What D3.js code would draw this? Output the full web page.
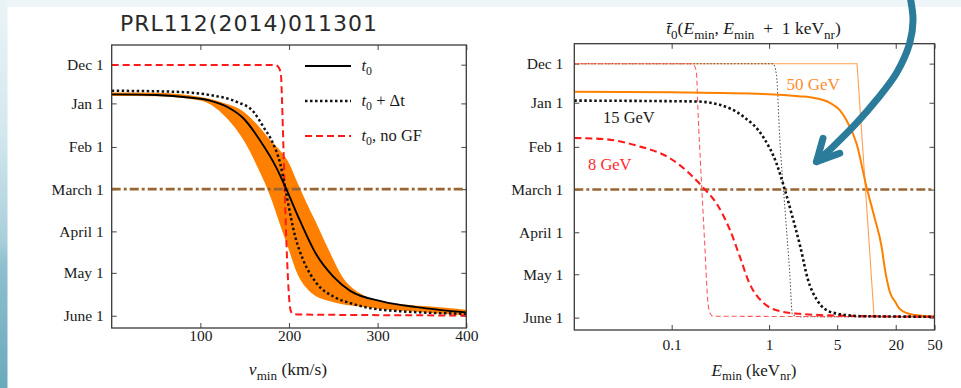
<!DOCTYPE html>
<html>
<head>
<meta charset="utf-8">
<script src="https://cdn.jsdelivr.net/npm/d3@7/dist/d3.min.js"></script>
<style>
  html, body { margin: 0; padding: 0; background: #fff; }
  svg { display: block; }
</style>
</head>
<body>
<svg id="chart" width="961" height="388"></svg>
<script>
// ---------- axis labels ----------
const monthLabels = ["Dec 1", "Jan 1", "Feb 1", "March 1", "April 1", "May 1", "June 1"];
const monthDays   = [-27.5, 0, 31, 61, 91, 120.5, 151];   // days after Jan 1
const march1Day   = 61;
const vTicks = [100, 200, 300, 400];
const eTicks = [0.1, 1, 5, 20, 50];

// ---------- left panel: phase t0 vs v_min (km/s) -> day ----------
const bandV  = [0, 50, 100, 125, 150, 165, 180, 190, 200, 210, 220, 230, 245, 260, 280, 300, 330, 360, 400];
const bandHi = [-7.7, -7.5, -4.5, -0.6, 6.5, 15.8, 27, 33.5, 42.5, 57, 71, 84, 104.5, 123, 135, 140, 143, 144.5, 146.8];
const bandLo = [-5.2, -5, -2, 7.5, 27.5, 46, 68, 86.5, 104.5, 122, 131.5, 137, 140.5, 142.8, 144.5, 146, 147.5, 149, 150.7];

const t0 = [[0,-6.4],[50,-6],[90,-4],[111,-2],[130,2.4],[148.5,10.6],[167,26],[186,46],[197,61],
            [212,82.9],[231,107.7],[250,123.2],[269,133.3],[306,140.9],[344,144.9],[400,148.7]];
const t0dt = [[0,-9],[73,-8.2],[111,-5.9],[141,-1.1],[160,6],[171,16.6],[182,28.4],[190,42.6],[195.5,59.2],
              [199,71],[207,94.7],[216,111.3],[231,127.8],[250,137.3],[269,142],[306,146.8],[400,149.6]];
const t0noGF = [[0,-27.3],[184.2,-27.3],[188.7,-25.2],[191,-19.5],[192.1,-2.4],[193.8,33.1],[195.5,68.7],
                [197.2,100.7],[198.9,125.5],[200.6,141.9],[202,147.6],[204.5,149.6],[212.4,150.1],[400,150.8]];

// ---------- right panel: mean phase vs E_min (keV_nr) -> day ----------
const gev50 = [[0.01,-7.8],[0.1,-7.3],[1,-6],[2,-4.6],[3,-3.2],[4.2,0],[5.3,5],[6.2,12],[7.9,28.5],[10,59],
               [12.2,81.5],[14.3,101],[15.4,116],[17.4,133],[20,140.5],[22,145],[30,149],[50,150.3]];
const gev50noGF = [[0.01,-27.4],[8.01,-27.4],[11.97,150.1],[50,150.5]];
const gev15 = [[0.01,-1.5],[0.18,-0.9],[0.31,1.4],[0.54,9.5],[0.87,24],[1.19,42.5],[1.45,61],[1.72,79],
               [2.1,101.5],[2.5,124],[3.1,138.5],[4.5,147.5],[9,150],[50,150.4]];
const gev15noGF = [[0.01,-27.4],[1.1,-27.4],[1.19,-19.7],[1.29,26],[1.45,72.8],[1.63,119.6],[1.74,149],
                   [2.06,150.4],[50,150.4]];
const gev8 = [[0.01,24.8],[0.02,25.5],[0.044,30.2],[0.096,39],[0.154,50],[0.21,59.5],[0.29,71],[0.4,90],
              [0.5,108],[0.63,127],[0.87,140.5],[1.35,146.8],[2.06,148.3],[5.3,149.6],[50,150.4]];
const gev8noGF = [[0.01,-27.4],[0.153,-27.4],[0.172,-25.8],[0.18,-20],[0.186,5],[0.201,52],[0.218,98],
                  [0.234,138],[0.246,147.5],[0.265,150],[50,150.4]];

// callout arrow, in the right panel's (E, day) units
const arrowShaft = [[27.8,-76],[30.1,-58.2],[27.8,-41.8],[20.3,-20.7],[12.67,-1.9],[7.89,14.4],[4.54,30.9],[3.07,41.4]];
const arrowHead  = [[3.58,25],[3.07,41.4],[5.32,35.5]];

// ---------- drawing ----------
const svg = d3.select("#chart");
const W = 961, H = 388;

// slide background
const defs = svg.append("defs");
const grad = defs.append("linearGradient").attr("id", "edge").attr("x1", 0).attr("y1", 0).attr("x2", 0).attr("y2", 1);
[[0, "#eaf4f7"], [0.35, "#d2e7ee"], [0.62, "#a9cfdb"], [0.68, "#8fc0cf"], [1, "#6aa9bc"]]
  .forEach(([o, c]) => grad.append("stop").attr("offset", o).attr("stop-color", c));
svg.append("rect").attr("width", W).attr("height", H).attr("fill", "#fff");
svg.append("rect").attr("width", W).attr("height", 7).attr("fill", "#eef6f9");
svg.append("rect").attr("width", 7.5).attr("height", H).attr("fill", "url(#edge)");

const serif = "'Liberation Serif', 'Times New Roman', serif";
const axisColor = "#3a3a3a";

function richText(g, x, y, parts, opts = {}) {
  const size = opts.size || 15.5;
  const subScale = opts.subScale || 0.72;
  const t = g.append("text").attr("x", x).attr("y", y)
    .attr("font-family", serif).attr("font-size", size)
    .attr("fill", opts.fill || "#1a1a1a")
    .attr("text-anchor", opts.anchor || "start");
  let shift = 0;
  parts.forEach(p => {
    const s = t.append("tspan").text(p.t);
    const target = p.sub ? size * 0.26 : 0;
    if (target !== shift) { s.attr("dy", target - shift); shift = target; }
    if (p.i) s.attr("font-style", "italic");
    if (p.sub) s.attr("font-size", size * subScale);
  });
  return t;
}

function panel(x, y, xTickVals, xFmt, xPad, yPad, id) {
  const [x0, x1] = x.range(), [y0, y1] = y.range();
  const g = svg.append("g");
  defs.append("clipPath").attr("id", id).append("rect")
    .attr("x", x0).attr("y", y0).attr("width", x1 - x0).attr("height", y1 - y0);

  const style = sel => {
    sel.select(".domain").remove();
    sel.selectAll(".tick line").attr("stroke", "#555").attr("stroke-width", 1.1);
    sel.selectAll(".tick text").attr("font-family", serif).attr("font-size", 15.5).attr("fill", "#1a1a1a");
  };
  g.append("g").attr("transform", `translate(${x0},0)`)
    .call(d3.axisLeft(y).tickValues(monthDays).tickFormat((d, i) => monthLabels[i]).tickSize(-5).tickPadding(yPad))
    .call(style);
  g.append("g").attr("transform", `translate(${x1},0)`)
    .call(d3.axisRight(y).tickValues(monthDays).tickFormat("").tickSize(-5)).call(style);
  g.append("g").attr("transform", `translate(0,${y1})`)
    .call(d3.axisBottom(x).tickValues(xTickVals).tickFormat(xFmt).tickSize(-5).tickPadding(xPad))
    .call(style);
  g.append("g").attr("transform", `translate(0,${y0})`)
    .call(d3.axisTop(x).tickValues(xTickVals).tickFormat("").tickSize(-5)).call(style);

  const plot = g.append("g").attr("clip-path", `url(#${id})`);
  return { g, plot };
}

// ---- left panel ----
const xL = d3.scaleLinear().domain([0, 400]).range([111.7, 466.3]);
const yL = d3.scaleLinear().domain([-41.5, 159.7]).range([45, 328]);
const L = panel(xL, yL, vTicks, d3.format("d"), 1.5, 8, "clipL");

const lineL = d3.line().x(d => xL(d[0])).y(d => yL(d[1])).curve(d3.curveMonotoneX);
const bandRows = bandV.map((v, i) => ({ v, hi: bandHi[i], lo: bandLo[i] }));
L.plot.append("path").datum(bandRows)
  .attr("d", d3.area().x(d => xL(d.v)).y0(d => yL(d.lo)).y1(d => yL(d.hi)).curve(d3.curveMonotoneX))
  .attr("fill", "#ff8000");
L.plot.append("line").attr("x1", xL(0)).attr("x2", xL(400)).attr("y1", yL(march1Day)).attr("y2", yL(march1Day))
  .attr("stroke", "#996633").attr("stroke-width", 2.6).attr("stroke-dasharray", "9,3,3,3");
L.plot.append("path").datum(t0noGF).attr("d", lineL).attr("fill", "none")
  .attr("stroke", "#ff1a1a").attr("stroke-width", 2).attr("stroke-dasharray", "7,4");
L.plot.append("path").datum(t0dt).attr("d", lineL).attr("fill", "none")
  .attr("stroke", "#111").attr("stroke-width", 2.5).attr("stroke-dasharray", "2.5,2.5");
L.plot.append("path").datum(t0).attr("d", lineL).attr("fill", "none")
  .attr("stroke", "#000").attr("stroke-width", 1.9);
L.g.append("rect").attr("x", 111.7).attr("y", 45).attr("width", 466.3 - 111.7).attr("height", 328 - 45)
  .attr("fill", "none").attr("stroke", axisColor).attr("stroke-width", 1.3);

// legend
const legend = [
  { y: 66,  stroke: "#000", w: 1.9, dash: null, parts: [{ t: "t", i: true }, { t: "0", sub: true }] },
  { y: 101, stroke: "#111", w: 2.5, dash: "2.5,2.5", parts: [{ t: "t", i: true }, { t: "0", sub: true }, { t: " + Δt" }] },
  { y: 136, stroke: "#ff1a1a", w: 2.2, dash: "7,4", parts: [{ t: "t", i: true }, { t: "0", sub: true }, { t: ", no GF" }] }
];
legend.forEach(it => {
  L.g.append("line").attr("x1", 305).attr("x2", 351).attr("y1", it.y).attr("y2", it.y)
    .attr("stroke", it.stroke).attr("stroke-width", it.w).attr("stroke-dasharray", it.dash);
  richText(L.g, 361.5, it.y + 5, it.parts, { size: 16.5 });
});

richText(svg, 288, 375, [{ t: "v", i: true }, { t: "min", sub: true }, { t: " (km/s)" }], { anchor: "middle", size: 17.5, subScale: 0.75 });
svg.append("text").attr("x", 249).attr("y", 31).attr("text-anchor", "middle")
  .attr("font-family", "'DejaVu Sans', sans-serif").attr("font-size", 22).attr("letter-spacing", 1.0)
  .attr("fill", "#2a2a2a").text("PRL112(2014)011301");

// ---- right panel ----
const xR = d3.scaleLog().domain([0.01, 50]).range([574.3, 934.5]);
const yR = d3.scaleLinear().domain([-41.5, 159.7]).range([43.7, 330]);
const R = panel(xR, yR, eTicks, d => String(d), 9, 11, "clipR");

const lineR = d3.line().x(d => xR(d[0])).y(d => yR(d[1])).curve(d3.curveMonotoneX);
const lineRstraight = d3.line().x(d => xR(d[0])).y(d => yR(d[1]));

R.plot.append("line").attr("x1", xR(0.01)).attr("x2", xR(50)).attr("y1", yR(march1Day)).attr("y2", yR(march1Day))
  .attr("stroke", "#996633").attr("stroke-width", 2.6).attr("stroke-dasharray", "9,3,3,3");
R.plot.append("path").datum(gev50noGF).attr("d", lineRstraight).attr("fill", "none")
  .attr("stroke", "#ffa050").attr("stroke-width", 1.1);
R.plot.append("path").datum(gev15noGF).attr("d", lineR).attr("fill", "none")
  .attr("stroke", "#444").attr("stroke-width", 1).attr("stroke-dasharray", "1.4,2");
R.plot.append("path").datum(gev8noGF).attr("d", lineR).attr("fill", "none")
  .attr("stroke", "#ff5a5a").attr("stroke-width", 1.1).attr("stroke-dasharray", "5,3");
R.plot.append("path").datum(gev50).attr("d", lineR).attr("fill", "none")
  .attr("stroke", "#ff8000").attr("stroke-width", 2);
R.plot.append("path").datum(gev8).attr("d", lineR).attr("fill", "none")
  .attr("stroke", "#ff1a1a").attr("stroke-width", 2.1).attr("stroke-dasharray", "7,4");
R.plot.append("path").datum(gev15).attr("d", lineR).attr("fill", "none")
  .attr("stroke", "#111").attr("stroke-width", 2.6).attr("stroke-dasharray", "2.5,2.5");
R.g.append("rect").attr("x", 574.3).attr("y", 43.7).attr("width", 934.5 - 574.3).attr("height", 330 - 43.7)
  .attr("fill", "none").attr("stroke", axisColor).attr("stroke-width", 1.3);

richText(R.g, 786.5, 89.5, [{ t: "50 GeV" }], { size: 17, fill: "#ff8c2e" });
richText(R.g, 603, 123, [{ t: "15 GeV" }], { size: 16.5, fill: "#1a1a1a" });
richText(R.g, 588, 170, [{ t: "8 GeV" }], { size: 16.5, fill: "#ff2a2a" });

richText(svg, 754, 376, [{ t: "E", i: true }, { t: "min", sub: true }, { t: " (keV" }, { t: "nr", sub: true }, { t: ")" }],
  { anchor: "middle", size: 17, subScale: 0.75 });
richText(svg, 753.5, 34, [
  { t: "t\u0304", i: true }, { t: "0", sub: true }, { t: "(" },
  { t: "E", i: true }, { t: "min", sub: true }, { t: ", " },
  { t: "E", i: true }, { t: "min", sub: true }, { t: "\u2002+\u20021 keV" }, { t: "nr", sub: true }, { t: ")" }
], { anchor: "middle", size: 17.5, subScale: 0.75 });

// callout arrow
const arrowLine = d3.line().x(d => xR(d[0])).y(d => yR(d[1]));
svg.append("path").datum(arrowShaft).attr("d", arrowLine.curve(d3.curveCatmullRom))
  .attr("fill", "none").attr("stroke", "#2b7b9b").attr("stroke-width", 7).attr("stroke-linecap", "round");
svg.append("path").datum(arrowHead).attr("d", d3.line().x(d => xR(d[0])).y(d => yR(d[1])))
  .attr("fill", "none").attr("stroke", "#2b7b9b").attr("stroke-width", 7)
  .attr("stroke-linecap", "round").attr("stroke-linejoin", "round");
</script>
</body>
</html>
